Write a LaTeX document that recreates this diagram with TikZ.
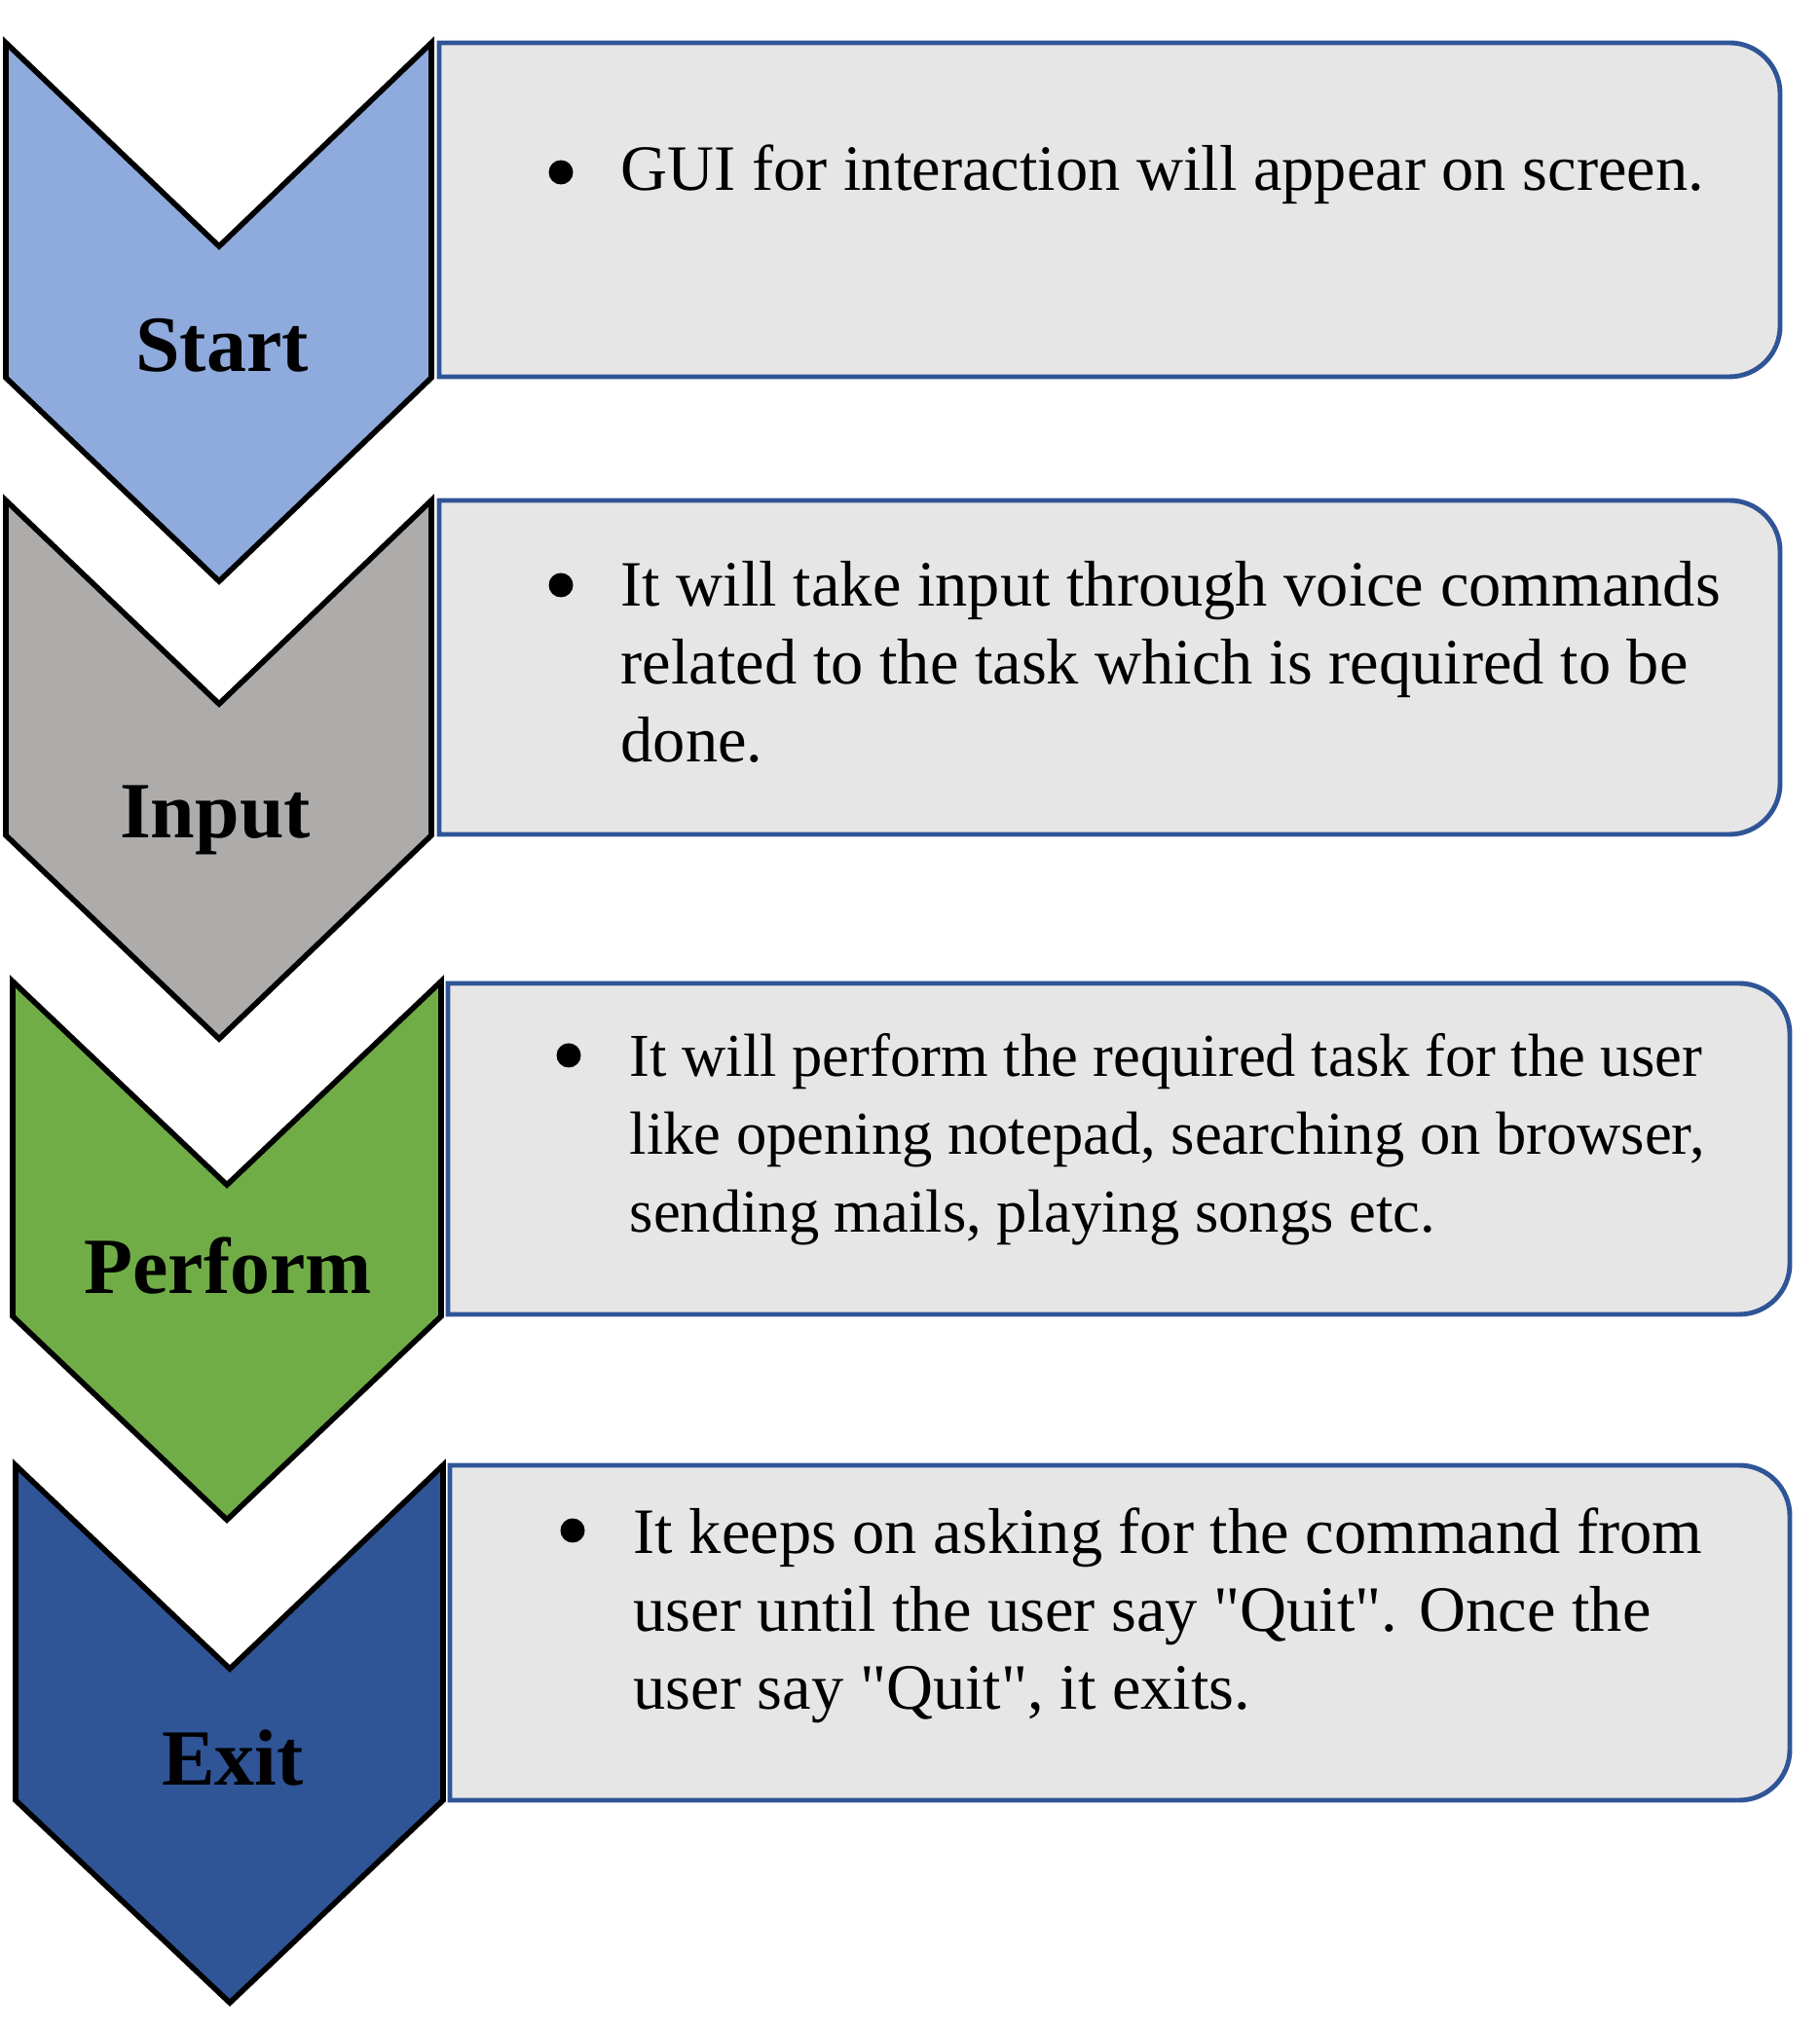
\documentclass[tikz,border=0pt]{standalone}
\usepackage{fontspec}
\setmainfont{Liberation Serif}
\usepackage{tikz}

\definecolor{startblue}{HTML}{8FAADC}
\definecolor{inputgray}{HTML}{AEABAB}
\definecolor{performgreen}{HTML}{70AD47}
\definecolor{exitblue}{HTML}{2F5597}
\definecolor{panelgray}{HTML}{E7E6E6}
\definecolor{panelline}{HTML}{2F5597}

\begin{document}
\begin{tikzpicture}[
    chevron/.style={draw=black, line width=1.6pt},
    panel/.style={draw=panelline, fill=panelgray, line width=1.4pt},
    stage/.style={font=\fontsize{23.3}{28}\selectfont\bfseries, anchor=base, inner sep=0},
    bulletmark/.style={circle, fill=black, inner sep=0, minimum size=0.25cm},
    bullettext/.style={font=\fontsize{18.9}{22.9}\selectfont, anchor=base west, align=left, inner sep=0}]
            \useasboundingbox (0,0) rectangle (18.68,20.85);
            % chevrons
            \draw [chevron, fill=startblue] (0.06,20.41) -- (2.25,18.32) -- (4.43,20.41) -- (4.43,16.97) -- (2.25,14.88) -- (0.06,16.97) -- cycle;
            \draw [chevron, fill=inputgray] (0.06,15.71) -- (2.25,13.62) -- (4.43,15.71) -- (4.43,12.27) -- (2.25,10.18) -- (0.06,12.27) -- cycle;
            \draw [chevron, fill=performgreen] (0.13,10.77) -- (2.33,8.68) -- (4.53,10.77) -- (4.53,7.33) -- (2.33,5.24) -- (0.13,7.33) -- cycle;
            \draw [chevron, fill=exitblue] (0.16,5.80) -- (2.36,3.71) -- (4.55,5.80) -- (4.55,2.36) -- (2.36,0.28) -- (0.16,2.36) -- cycle;
            \node [stage] (start) at (2.28,17.03) {Start};
            \node [stage] (input) at (2.21,12.24) {Input};
            \node [stage] (perform) at (2.34,7.56) {Perform};
            \node [stage] (exit) at (2.39,2.51) {Exit};
            % panels
            \draw [panel] (11,20.41) [rounded corners=0.52cm] -- (18.28,20.41) -- (18.28,16.98) -- (11,16.98) [sharp corners] -- (4.51,16.98) -- (4.51,20.41) -- cycle;
            \draw [panel] (11,15.71) [rounded corners=0.52cm] -- (18.28,15.71) -- (18.28,12.28) -- (11,12.28) [sharp corners] -- (4.51,12.28) -- (4.51,15.71) -- cycle;
            \draw [panel] (11,10.75) [rounded corners=0.52cm] -- (18.38,10.75) -- (18.38,7.35) -- (11,7.35) [sharp corners] -- (4.60,7.35) -- (4.60,10.75) -- cycle;
            \draw [panel] (11,5.80) [rounded corners=0.52cm] -- (18.38,5.80) -- (18.38,2.36) -- (11,2.36) [sharp corners] -- (4.62,2.36) -- (4.62,5.80) -- cycle;
            % bullets and texts (base is the last line)
            \node [bulletmark] (b1) at (5.76,19.08) {};
            \node [bullettext] (gui) at (6.37,18.89) {GUI for interaction will appear on screen.};
            \node [bulletmark] (b2) at (5.76,14.84) {};
            \node [bullettext] (take) at (6.37,13.02) {It will take input through voice commands\\related to the task which is required to be\\done.};
            \node [bulletmark] (b3) at (5.84,10.01) {};
            \node [bullettext, font=\fontsize{17.8}{22.9}\selectfont] (task) at (6.46,8.19) {It will perform the required task for the user\\like opening notepad, searching on browser,\\sending mails, playing songs etc.};
            \node [bulletmark] (b4) at (5.88,5.13) {};
            \node [bullettext] (quit) at (6.50,3.29) {It keeps on asking for the command from\\user until the user say \textquotedbl Quit\textquotedbl. Once the\\user say \textquotedbl Quit\textquotedbl, it exits.};
        \end{tikzpicture}
\end{document}
